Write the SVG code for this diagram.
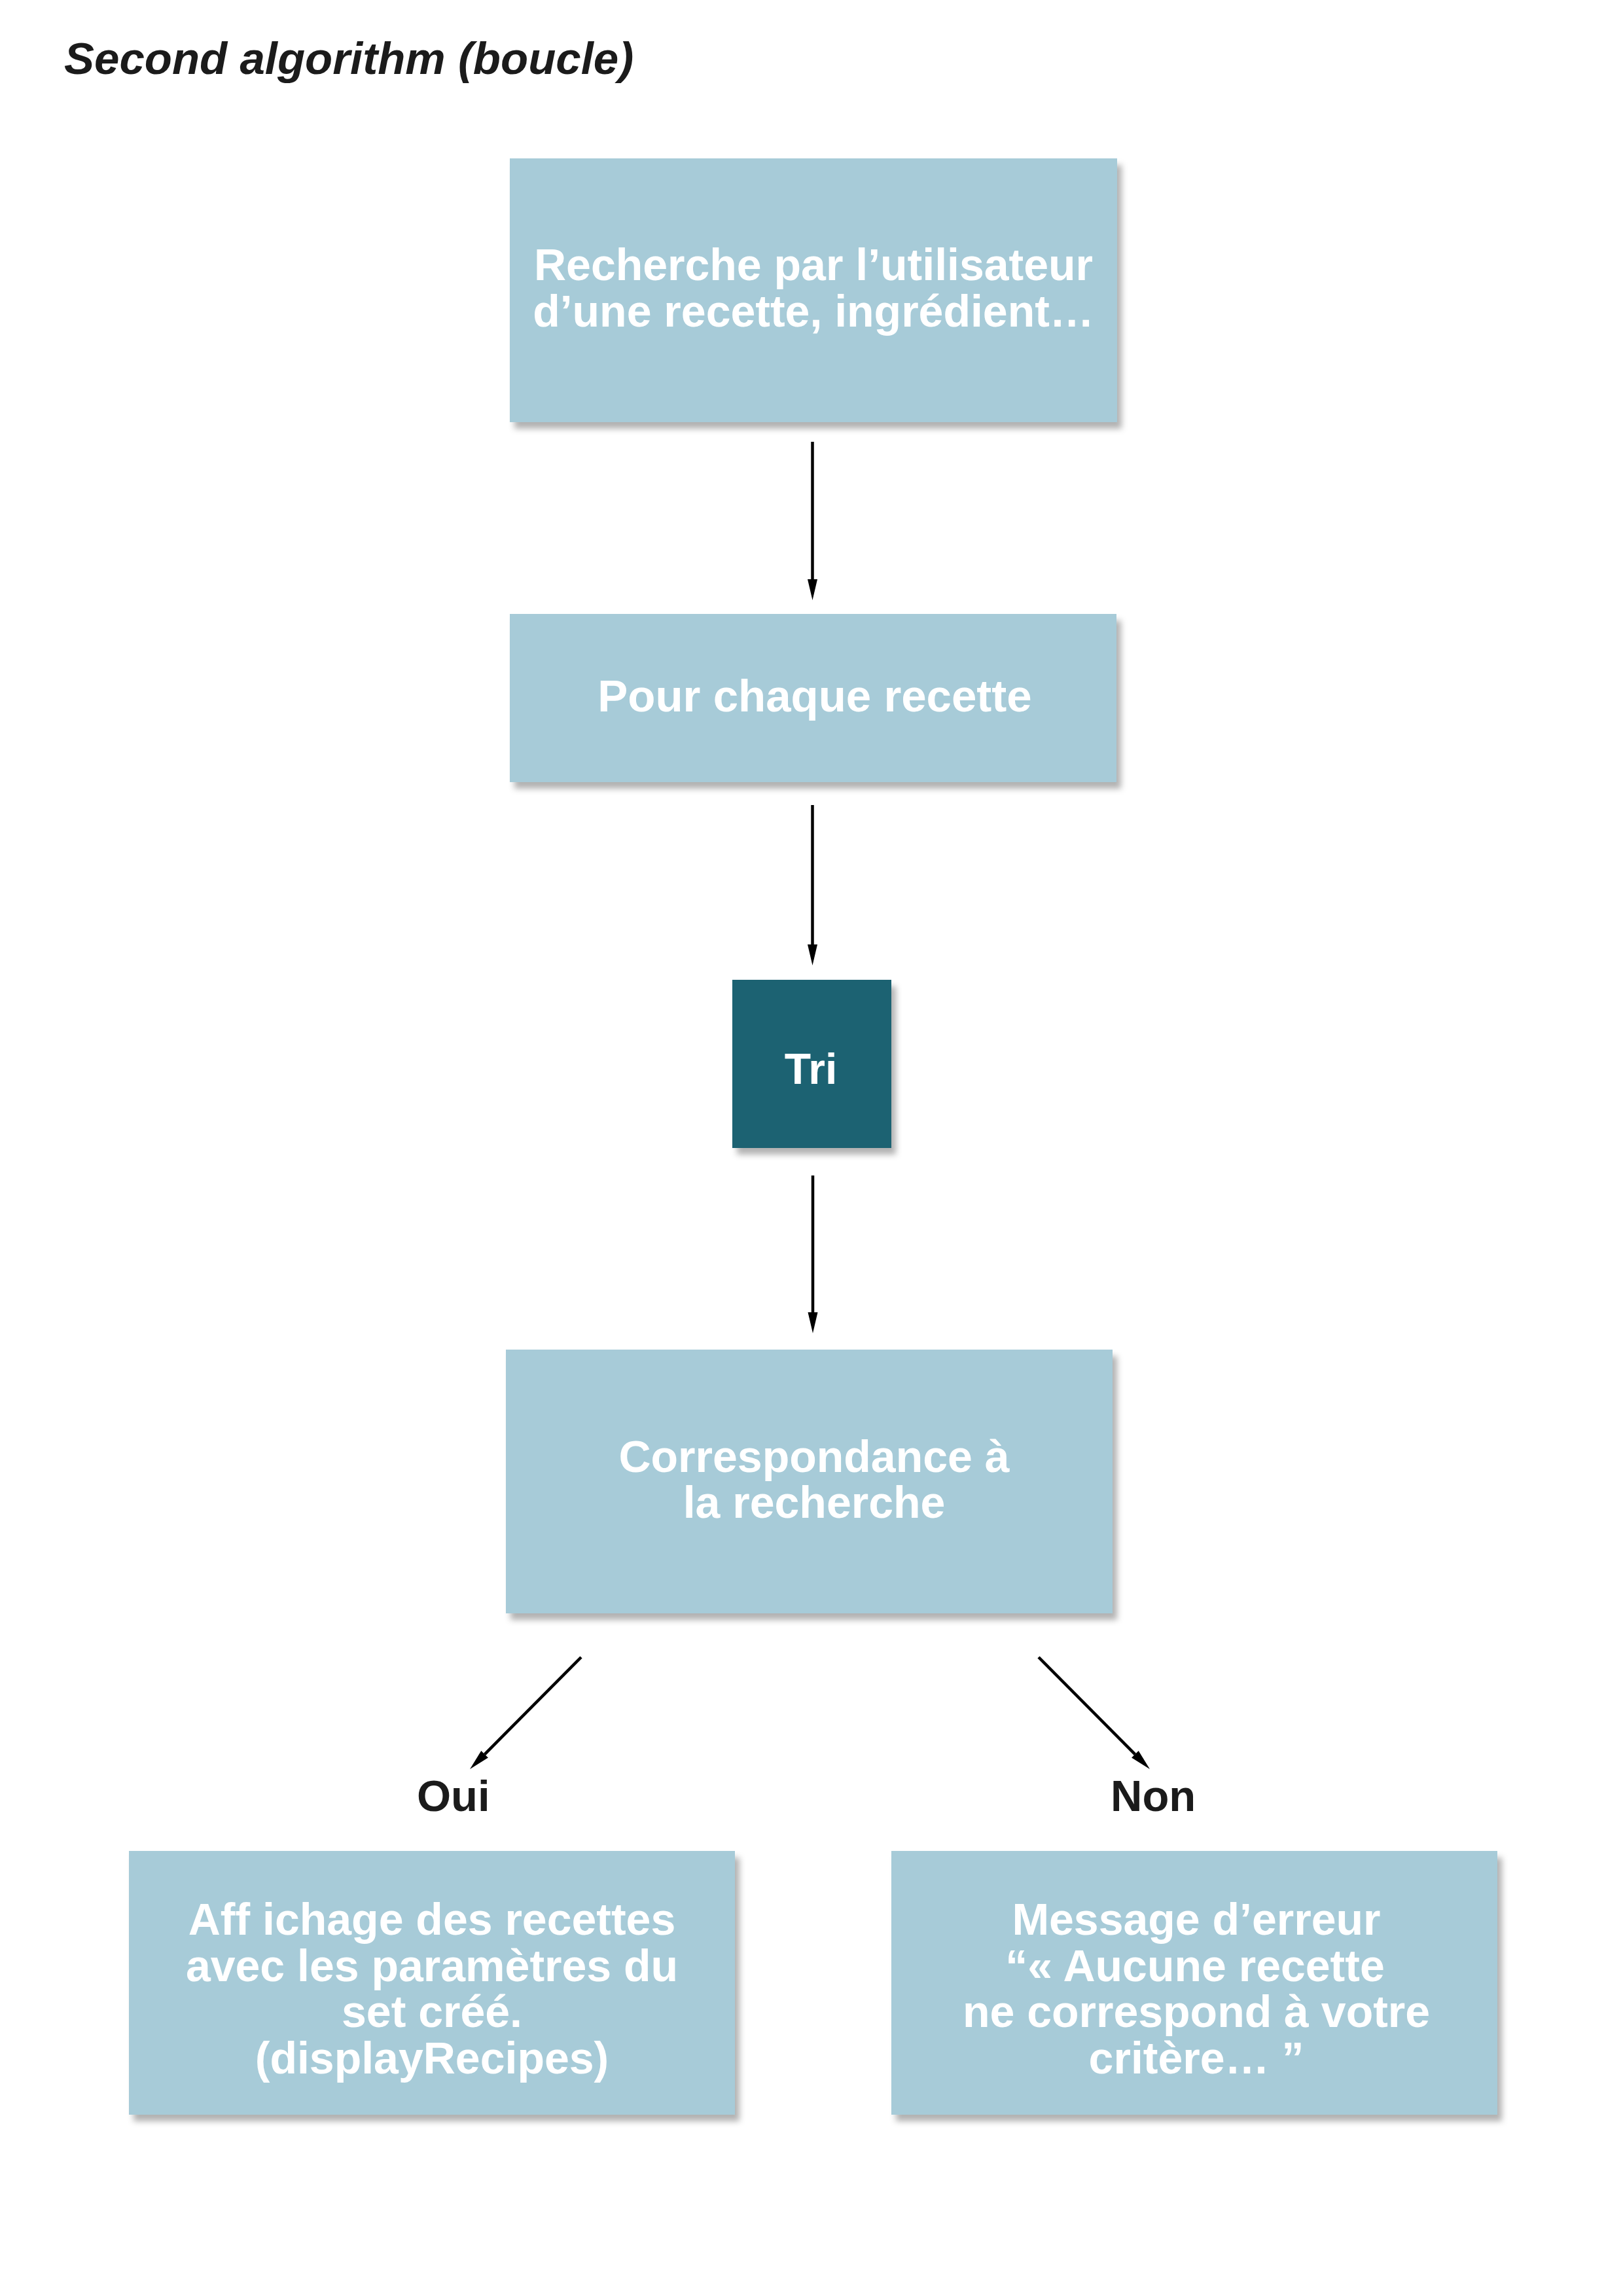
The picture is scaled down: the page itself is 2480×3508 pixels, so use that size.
<svg xmlns="http://www.w3.org/2000/svg" width="2480" height="3508" viewBox="0 0 2480 3508">
<defs>
<style>
.box{fill:#a7cbd8;filter:url(#sh)}
.dark{fill:#1d6272;filter:url(#sh)}
.t{font-family:"Liberation Sans",Arial,sans-serif;font-weight:bold;fill:#ffffff;text-anchor:middle;font-size:68px}
.lab{font-family:"Liberation Sans",Arial,sans-serif;font-weight:bold;fill:#1b1b1b;font-size:67px}
.title{font-family:"Liberation Sans",Arial,sans-serif;font-weight:bold;font-style:italic;fill:#1b1b1b;font-size:69px}
.ln{stroke:#000;stroke-width:4.5;fill:none;marker-end:url(#ah)}
</style>
<filter id="sh" x="-10%" y="-10%" width="125%" height="130%">
<feDropShadow dx="7" dy="10" stdDeviation="5" flood-color="#000" flood-opacity="0.3"/>
</filter>
<marker id="ah" markerUnits="userSpaceOnUse" viewBox="0 0 32 16" refX="0" refY="8" markerWidth="32" markerHeight="16" orient="auto">
<path d="M0,0.5 L32,8 L0,15.5 Z" fill="#000"/>
</marker>
</defs>
<rect width="2480" height="3508" fill="#ffffff"/>
<text class="title" x="98" y="113">Second algorithm (boucle)</text>
<g id="connectors">
<line class="ln" x1="1241.5" y1="675" x2="1241.5" y2="885"/>
<line class="ln" x1="1241.5" y1="1230" x2="1241.5" y2="1443"/>
<line class="ln" x1="1242" y1="1796" x2="1242" y2="2005"/>
<line class="ln" x1="888" y1="2532" x2="740.6" y2="2680.3"/>
<line class="ln" x1="1587" y1="2532" x2="1734.4" y2="2680.3"/>
</g>
<g id="node-recherche">
<rect class="box" x="779" y="242" width="928" height="403"/>
<text class="t" x="1243" y="428" font-size="67">Recherche par l’utilisateur</text>
<text class="t" x="1243" y="499" font-size="67">d’une recette, ingrédient…</text>
</g>
<g id="node-pour">
<rect class="box" x="779" y="938" width="927" height="257"/>
<text class="t" x="1245" y="1087" style="font-size:69px">Pour chaque recette</text>
</g>
<g id="node-tri">
<rect class="dark" x="1119" y="1497" width="243" height="257"/>
<text class="t" x="1239" y="1656" style="font-size:66px">Tri</text>
</g>
<g id="node-correspondance">
<rect class="box" x="773" y="2062" width="927" height="403"/>
<text class="t" x="1244" y="2249">Correspondance à</text>
<text class="t" x="1244" y="2319">la recherche</text>
</g>
<g id="label-oui">
<text class="lab" x="637" y="2767">Oui</text>
</g>
<g id="label-non">
<text class="lab" x="1697" y="2767">Non</text>
</g>
<g id="node-affichage">
<rect class="box" x="197" y="2828" width="926" height="403"/>
<text class="t" x="660" y="2956">Aff ichage des recettes</text>
<text class="t" x="660" y="3027">avec les paramètres du</text>
<text class="t" x="660" y="3097">set créé.</text>
<text class="t" x="660" y="3168">(displayRecipes)</text>
</g>
<g id="node-erreur">
<rect class="box" x="1362" y="2828" width="926" height="403"/>
<text class="t" x="1828" y="2956">Message d’erreur</text>
<text class="t" x="1826" y="3027">“« Aucune recette</text>
<text class="t" x="1828" y="3097">ne correspond à votre</text>
<text class="t" x="1828" y="3168">critère… ”</text>
</g>
</svg>
